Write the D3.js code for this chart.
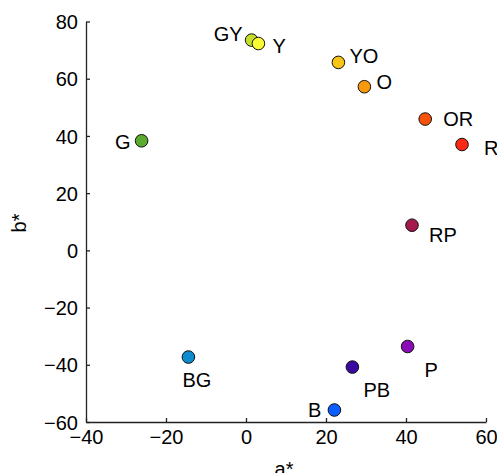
<!DOCTYPE html>
<html>
<head>
<meta charset="utf-8">
<script src="https://cdn.jsdelivr.net/npm/d3@7"></script>
<style>
  body { margin: 0; background: #fff; }
  svg { display: block; font-family: "Liberation Sans", Arial, sans-serif; }
  .axis path, .axis line { stroke: #222; stroke-width: 1.3; }
  .axis text { font-size: 20px; fill: #000; }
</style>
</head>
<body>
<div id="chart"></div>
<script>
// Munsell hues in CIELAB a*/b* plane
const hues   = ["GY", "Y", "YO", "O", "OR", "R", "G", "BG", "RP", "P", "PB", "B"];
const aStar  = [1.4, 3.1, 23.1, 29.6, 44.8, 54.0, -26.1, -14.4, 41.5, 40.4, 26.6, 22.1];
const bStar  = [73.5, 72.3, 65.7, 57.2, 45.9, 37.0, 38.3, -37.3, 8.8, -33.6, -40.8, -55.8];
const colors = ["#c4de2c", "#fafa32", "#f5c414", "#f99a0c", "#f8520c", "#fb2a14",
                "#5aab2e", "#0e8bcc", "#a3194c", "#8b0cb6", "#3a0aa0", "#0a5eff"];
// label placement relative to point: [dx, dy, anchor]
const labelPos = [[-9, -6, "end"], [14, 2, "start"], [11, -7, "start"], [12, -5, "start"],
                  [18, 0, "start"], [22, 3, "start"], [-11, 1, "end"], [-6, 23, "start"],
                  [17, 10, "start"], [17, 23, "start"], [11, 23, "start"], [-13, 0, "end"]];

const xTicks = [-40, -20, 0, 20, 40, 60];
const yTicks = [-60, -40, -20, 0, 20, 40, 60, 80];

const W = 497, H = 473;
const margin = { top: 21.5, right: 11, bottom: 51, left: 86 };
const width = W - margin.left - margin.right;
const height = H - margin.top - margin.bottom;

const svg = d3.select("#chart").append("svg")
    .attr("width", W)
    .attr("height", H);

const g = svg.append("g")
    .attr("transform", "translate(" + margin.left + "," + margin.top + ")");

const x = d3.scaleLinear().domain([-40, 60]).range([0, width]);
const y = d3.scaleLinear().domain([-60, 80]).range([height, 0]);

const xAxis = g.append("g").attr("class", "axis")
    .attr("transform", "translate(0," + height + ")")
    .call(d3.axisBottom(x).tickValues(xTicks).tickSizeInner(-4).tickSizeOuter(0)
        .tickPadding(8).tickFormat(d => d3.format("")(d).replace("-", "\u2212")));

const yAxis = g.append("g").attr("class", "axis")
    .call(d3.axisLeft(y).tickValues(yTicks).tickSizeInner(-4).tickSizeOuter(0)
        .tickPadding(8).tickFormat(d => d3.format("")(d).replace("-", "\u2212")));

yAxis.selectAll("text").attr("dy", "0.36em");
xAxis.selectAll("text").attr("dy", "0.72em");

// axis titles
svg.append("text")
    .attr("x", 284).attr("y", 476)
    .attr("text-anchor", "middle")
    .style("font-size", "20px")
    .text("a*");

svg.append("text")
    .attr("transform", "translate(26,223) rotate(-90)")
    .attr("text-anchor", "middle")
    .style("font-size", "20px")
    .text("b*");

const data = hues.map((h, i) => ({ hue: h, a: aStar[i], b: bStar[i], color: colors[i], lp: labelPos[i] }));

g.selectAll("circle.pt")
    .data(data)
    .join("circle")
    .attr("class", "pt")
    .attr("cx", d => x(d.a))
    .attr("cy", d => y(d.b))
    .attr("r", 6.3)
    .attr("fill", d => d.color)
    .attr("stroke", "#111")
    .attr("stroke-width", 1);

g.selectAll("text.lbl")
    .data(data)
    .join("text")
    .attr("class", "lbl")
    .attr("x", d => x(d.a) + d.lp[0])
    .attr("y", d => y(d.b) + d.lp[1])
    .attr("dy", "0.36em")
    .attr("text-anchor", d => d.lp[2])
    .style("font-size", "20px")
    .text(d => d.hue);
</script>
</body>
</html>
